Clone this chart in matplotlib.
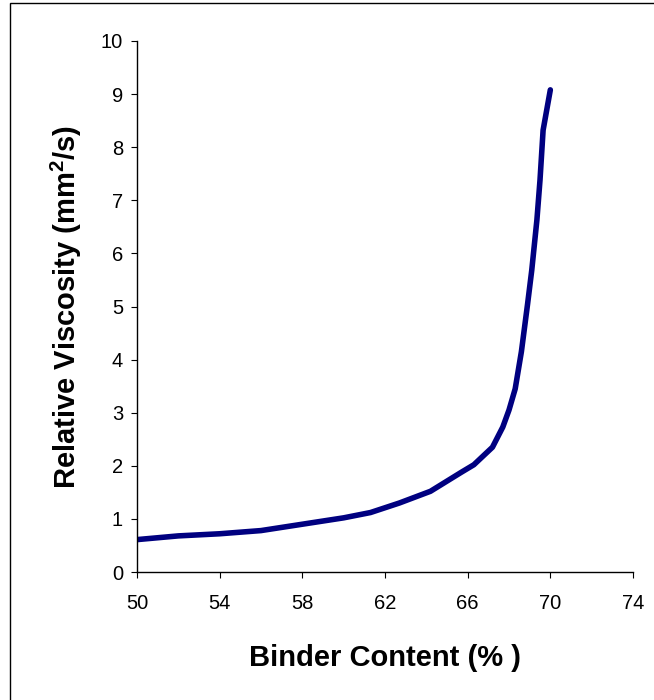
import numpy as np
import matplotlib.pyplot as plt
from matplotlib.patches import Rectangle

binder = [50, 52, 54, 56, 58, 60, 61.3, 62.7, 64.2, 65.7, 66.3, 67.2, 67.7,
          68.0, 68.3, 68.6, 68.9, 69.1, 69.35, 69.5, 69.65, 70.0]
viscosity = [0.61, 0.68, 0.72, 0.78, 0.90, 1.02, 1.12, 1.30, 1.52, 1.88, 2.02,
             2.35, 2.73, 3.05, 3.45, 4.15, 5.05, 5.68, 6.63, 7.38, 8.32, 9.08]
x_ticks = [50, 54, 58, 62, 66, 70, 74]
y_ticks = list(range(0, 11))

plt.rcParams['font.family'] = ['Liberation Sans', 'DejaVu Sans']
plt.rcParams['mathtext.fontset'] = 'custom'
plt.rcParams['mathtext.bf'] = 'Liberation Sans:bold'
plt.rcParams['mathtext.rm'] = 'Liberation Sans'


def plotViscosity():
    fig = plt.figure(figsize=(6.54, 7.0), dpi=100)
    ax = fig.add_axes([137 / 654, 128 / 700, 496 / 654, 531 / 700])

    ax.plot(binder, viscosity, color='#000080', linewidth=4.0,
            solid_capstyle='round', solid_joinstyle='round')

    ax.set_xlim(50, 74)
    ax.set_ylim(0, 10)
    ax.set_xticks(x_ticks)
    ax.set_yticks(y_ticks)
    ax.spines['top'].set_visible(False)
    ax.spines['right'].set_visible(False)
    for s in ['left', 'bottom']:
        ax.spines[s].set_linewidth(1.0)
    ax.tick_params(direction='out', length=4, width=0.8, labelsize=14.5)
    ax.tick_params(axis='x', pad=12)
    ax.tick_params(axis='y', pad=6)

    ax.set_xlabel('Binder Content (% )', fontsize=21, fontweight='bold', labelpad=22)
    ax.set_ylabel(r'Relative Viscosity (mm$^\mathbf{2}$/s)', fontsize=21,
                  fontweight='bold', labelpad=12)

    fig.patches.append(Rectangle((10 / 654, -0.01), 1.0, 1.0 - 3 / 700 + 0.01,
                                 transform=fig.transFigure, fill=False,
                                 edgecolor='black', linewidth=1.0))
    fig.savefig('out.png', dpi=100)


def main():
    plotViscosity()


if __name__ == "__main__":
    main()
